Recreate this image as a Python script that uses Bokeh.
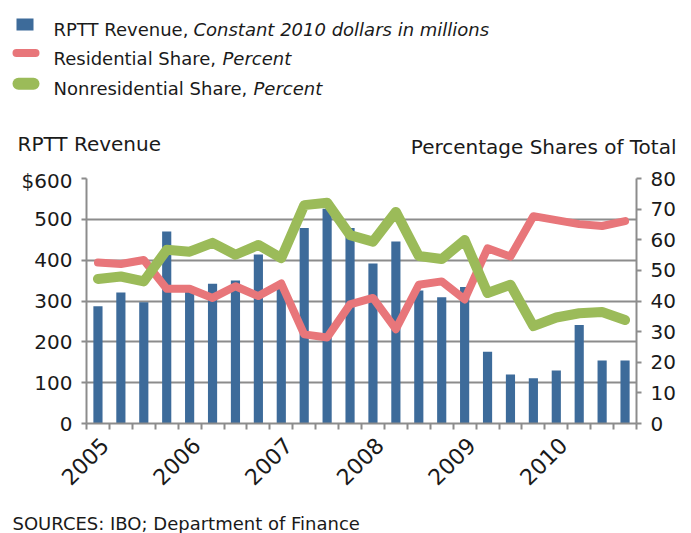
import math
from bokeh.plotting import figure
from bokeh.models import Range1d, LinearAxis, FixedTicker
from bokeh.layouts import column
from bokeh.core.properties import value
from bokeh.embed import file_html
from bokeh.resources import INLINE

# ---------------- data ----------------
quarters = list(range(24))  # 2005 Q1 .. 2010 Q4
year_labels = ["2005", "2006", "2007", "2008", "2009", "2010"]
revenue = [287, 321, 297, 470, 324, 342, 350, 414, 330, 479, 526, 479,
           392, 446, 326, 309, 334, 176, 120, 111, 130, 241, 154, 154]
residential = [52.6, 52.1, 53.4, 44.0, 44.0, 41.0, 44.8, 41.6, 45.7, 29.1, 28.1, 38.9,
               41.0, 30.8, 45.3, 46.4, 40.5, 57.2, 54.5, 67.7, 66.4, 65.1, 64.5, 66.1]
nonresidential = [47.2, 48.0, 46.4, 56.7, 56.1, 59.0, 55.1, 58.3, 54.0, 71.3, 72.1, 61.5,
                  59.4, 69.1, 54.7, 53.7, 59.9, 42.6, 45.3, 31.8, 34.6, 36.0, 36.4, 33.8]
left_ticks = [0, 100, 200, 300, 400, 500, 600]
right_ticks = [0, 10, 20, 30, 40, 50, 60, 70, 80]

BLUE = "#3d6b9a"
RED = "#e8767a"
GREEN = "#9bbb59"
GRAY = "#8c8c8c"
FONT = "DejaVu Sans"
TXT = "#1a1a1a"
W = 691


def blank(height, y_top, y_bottom):
    f = figure(width=W, height=height, x_range=Range1d(0, W), y_range=Range1d(y_bottom, y_top),
               output_backend="svg", toolbar_location=None, min_border=0,
               x_axis_location=None, y_axis_location=None)
    f.grid.visible = False
    f.outline_line_color = None
    f.frame_align = False
    return f


def put_text(f, x, y, t, style="normal", size="18px", align="left"):
    f.text(x=[x], y=[y], text=[t], text_font=value(FONT), text_font_size=size,
           text_font_style=style, text_baseline="alphabetic", text_align=align,
           text_color=TXT)


# ---------------- header: legend + axis titles (page pixel coordinates) ----------------
h = blank(168, 0, 168)
h.quad(left=[16], right=[33], top=[18], bottom=[30], fill_color=BLUE, line_color=None)
h.line([16, 35], [52.5, 52.5], line_width=8, line_color=RED, line_cap="round")
h.line([18, 33], [83.3, 83.3], line_width=12, line_color=GREEN, line_cap="round")

put_text(h, 53, 28.5, "RPTT Revenue,")
put_text(h, 193, 28.5, "Constant 2010 dollars in millions", "italic")
put_text(h, 53, 58, "Residential Share,")
put_text(h, 222, 58, "Percent", "italic")
put_text(h, 53, 87.5, "Nonresidential Share,")
put_text(h, 253, 87.5, "Percent", "italic")
put_text(h, 17, 143, "RPTT Revenue", size="20px")
put_text(h, 676, 146, "Percentage Shares of Total", size="20px", align="right")

# ---------------- main chart ----------------
p = figure(width=W, height=327, x_range=Range1d(-0.5, 23.5), y_range=Range1d(0, 600),
           output_backend="svg", toolbar_location=None,
           min_border_left=86, min_border_right=55, min_border_top=10, min_border_bottom=70)
p.frame_align = False
p.extra_y_ranges = {"pct": Range1d(0, 80)}
p.outline_line_color = None

p.vbar(x=quarters, top=revenue, width=0.4, fill_color=BLUE, line_color=None)
p.line(quarters, residential, y_range_name="pct", line_color=RED, line_width=8,
       line_join="round", line_cap="round")
p.line(quarters, nonresidential, y_range_name="pct", line_color=GREEN, line_width=10,
       line_join="round", line_cap="round")

# x axis: year labels near the first quarter of each year, tick marks between quarters
xax = p.xaxis[0]
xax.ticker = FixedTicker(ticks=[4 * i + 0.3 for i in range(len(year_labels))],
                         minor_ticks=[i - 0.5 for i in range(25)])
xax.major_label_overrides = {4 * i + 0.3: year_labels[i] for i in range(len(year_labels))}
xax.major_label_orientation = math.pi / 4
xax.major_tick_line_color = None
xax.minor_tick_line_color = GRAY
xax.minor_tick_line_width = 2
xax.minor_tick_in = 0
xax.minor_tick_out = 6
xax.axis_line_color = GRAY
xax.axis_line_width = 2
xax.major_label_text_font = FONT
xax.major_label_text_font_size = "22px"
xax.major_label_text_color = TXT
xax.major_label_standoff = 12

# left axis
yax = p.yaxis[0]
yax.ticker = FixedTicker(ticks=left_ticks)
yax.major_label_overrides = {600: "$600"}
yax.minor_tick_line_color = None
yax.major_tick_line_color = GRAY
yax.major_tick_line_width = 2
yax.major_tick_in = 0
yax.major_tick_out = 5
yax.axis_line_color = GRAY
yax.axis_line_width = 2
yax.major_label_text_font = FONT
yax.major_label_text_font_size = "20px"
yax.major_label_text_color = TXT
yax.major_label_standoff = 9

# right axis
rax = LinearAxis(y_range_name="pct", ticker=FixedTicker(ticks=right_ticks))
rax.minor_tick_line_color = None
rax.major_tick_line_color = GRAY
rax.major_tick_line_width = 2
rax.major_tick_in = 0
rax.major_tick_out = 5
rax.axis_line_color = GRAY
rax.axis_line_width = 2
rax.major_label_text_font = FONT
rax.major_label_text_font_size = "20px"
rax.major_label_text_color = TXT
rax.major_label_standoff = 9
p.add_layout(rax, "right")

p.xgrid.visible = False
p.ygrid.ticker = FixedTicker(ticks=left_ticks)
p.ygrid.grid_line_color = GRAY
p.ygrid.grid_line_width = 2

# ---------------- footer: source note ----------------
ft = blank(38, 495, 533)
put_text(ft, 12, 523, "SOURCES: IBO; Department of Finance", size="18px")

layout = column(h, p, ft, spacing=0)
open("out.html", "w").write(file_html(layout, INLINE))
